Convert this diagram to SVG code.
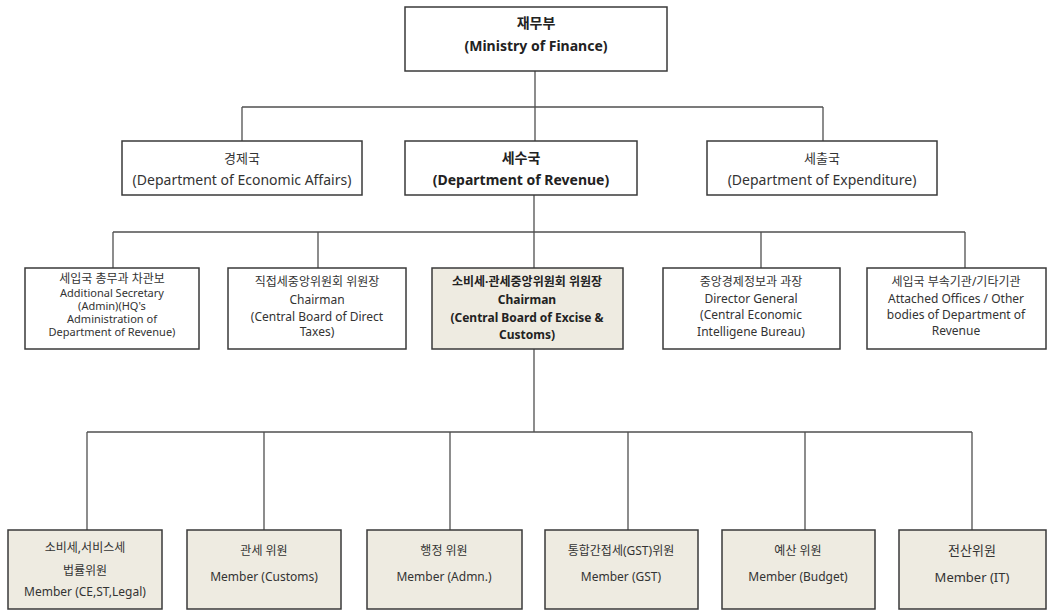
<svg xmlns="http://www.w3.org/2000/svg" width="1048" height="612" viewBox="0 0 1048 612">
<style>
.box{fill:#ffffff;stroke:#3a3a3a;stroke-width:1.5}
.hl{fill:#eeebe1;stroke:#3a3a3a;stroke-width:1.5}
.t{font-family:"Noto Sans","Noto Sans CJK KR",sans-serif;fill:#333333;text-anchor:middle}
.b{font-weight:bold;fill:#222222}
.s14{font-size:14px}
.s13{font-size:13px}
.s12{font-size:12px}
.s11{font-size:11px}
.conn{fill:none;stroke:#505050;stroke-width:1.3}
</style>
<rect width="1048" height="612" fill="#ffffff"/>
<g id="connectors" class="conn">
<path d="M535 71V107M242 107H823M242 107V141M535 107V141M823 107V141"/>
<path d="M534 195V232M113 232H965M113 232V268M318 232V268M534 232V268M761 232V268M965 232V268"/>
<path d="M534 349V432M87 432H972M87 432V530M264 432V530M450 432V530M628 432V530M805 432V530M972 432V530"/>
</g>
<g id="mof">
<rect class="box" x="405" y="7" width="262" height="64"/>
<text class="t b s14" x="536" y="28">재무부</text>
<text class="t b s14" x="536" y="51">(Ministry of Finance)</text>
</g>
<g id="dea">
<rect class="box" x="122" y="141" width="240" height="54"/>
<text class="t s13" x="242" y="163">경제국</text>
<text class="t s14" x="242" y="185">(Department of Economic Affairs)</text>
</g>
<g id="dor">
<rect class="box" x="405" y="141" width="232" height="54"/>
<text class="t b s14" x="521" y="163">세수국</text>
<text class="t b s14" x="521" y="185">(Department of Revenue)</text>
</g>
<g id="doe">
<rect class="box" x="707" y="141" width="230" height="54"/>
<text class="t s13" x="822" y="163">세출국</text>
<text class="t s14" x="822" y="185">(Department of Expenditure)</text>
</g>
<g id="admin">
<rect class="box" x="25" y="268" width="174" height="81"/>
<text class="t s12" x="112" y="283">세입국 총무과 차관보</text>
<text class="t s11" x="112" y="297">Additional Secretary</text>
<text class="t s11" x="112" y="310">(Admin)(HQ's</text>
<text class="t s11" x="112" y="323">Administration of</text>
<text class="t s11" x="112" y="336">Department of Revenue)</text>
</g>
<g id="cbdt">
<rect class="box" x="228" y="268" width="178" height="81"/>
<text class="t s12" x="317" y="286">직접세중앙위원회 위원장</text>
<text class="t s12" x="317" y="304">Chairman</text>
<text class="t s12" x="317" y="321">(Central Board of Direct</text>
<text class="t s12" x="317" y="336">Taxes)</text>
</g>
<g id="cbec">
<rect class="hl" x="432" y="268" width="191" height="81"/>
<text class="t b s12" x="527" y="286">소비세·관세중앙위원회 위원장</text>
<text class="t b s12" x="527" y="304">Chairman</text>
<text class="t b s12" x="527" y="322">(Central Board of Excise &amp;</text>
<text class="t b s12" x="527" y="339">Customs)</text>
</g>
<g id="ceib">
<rect class="box" x="663" y="268" width="177" height="81"/>
<text class="t s12" x="751" y="286">중앙경제정보과 과장</text>
<text class="t s12" x="751" y="303">Director General</text>
<text class="t s12" x="751" y="319">(Central Economic</text>
<text class="t s12" x="751" y="336">Intelligene Bureau)</text>
</g>
<g id="attached">
<rect class="box" x="867" y="268" width="179" height="81"/>
<text class="t s12" x="956" y="286">세입국 부속기관/기타기관</text>
<text class="t s12" x="956" y="303">Attached Offices / Other</text>
<text class="t s12" x="956" y="319">bodies of Department of</text>
<text class="t s12" x="956" y="335">Revenue</text>
</g>
<g id="m-legal">
<rect class="hl" x="8" y="530" width="154" height="79"/>
<text class="t s12" x="85" y="552">소비세,서비스세</text>
<text class="t s12" x="85" y="575">법률위원</text>
<text class="t s12" x="85" y="596">Member (CE,ST,Legal)</text>
</g>
<g id="m-customs">
<rect class="hl" x="187" y="530" width="154" height="79"/>
<text class="t s12" x="264" y="555">관세 위원</text>
<text class="t s12" x="264" y="581">Member (Customs)</text>
</g>
<g id="m-admn">
<rect class="hl" x="367" y="530" width="155" height="79"/>
<text class="t s12" x="444" y="555">행정 위원</text>
<text class="t s12" x="444" y="581">Member (Admn.)</text>
</g>
<g id="m-gst">
<rect class="hl" x="545" y="530" width="153" height="79"/>
<text class="t s12" x="621" y="555">통합간접세(GST)위원</text>
<text class="t s12" x="621" y="581">Member (GST)</text>
</g>
<g id="m-budget">
<rect class="hl" x="722" y="530" width="153" height="79"/>
<text class="t s12" x="798" y="555">예산 위원</text>
<text class="t s12" x="798" y="581">Member (Budget)</text>
</g>
<g id="m-it">
<rect class="hl" x="899" y="530" width="147" height="79"/>
<text class="t s13" x="972" y="555">전산위원</text>
<text class="t s13" x="972" y="582">Member (IT)</text>
</g>
</svg>
